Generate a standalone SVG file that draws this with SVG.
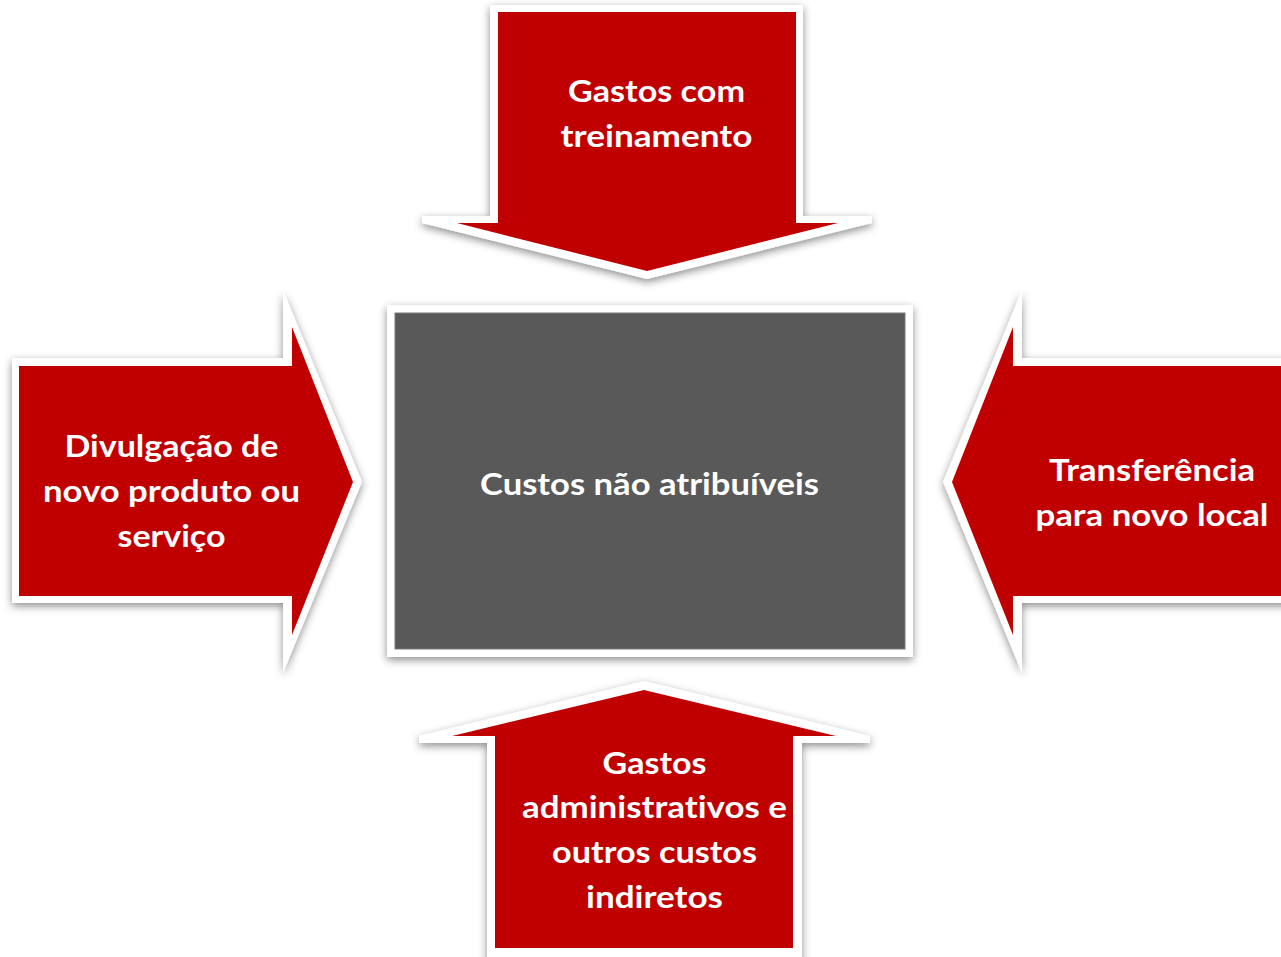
<svg xmlns="http://www.w3.org/2000/svg" width="1281" height="957" viewBox="0 0 1281 957">
<defs>
<filter id="sh" x="-20%" y="-20%" width="140%" height="140%">
<feDropShadow dx="0" dy="3" stdDeviation="4" flood-color="#000" flood-opacity="0.45"/>
</filter>
<style>
.frame{fill:#FFFFFF;filter:url(#sh);}
.red{fill:#C00000;}
.dark{fill:#595959;stroke:#7A7A7A;stroke-width:1;}
.lbl{font-family:Lato,"Open Sans","Liberation Sans",sans-serif;font-weight:bold;font-size:31px;fill:#FFFFFF;text-anchor:middle;font-variant-ligatures:none;font-feature-settings:"liga" 0;}
</style>
</defs>
<rect width="1281" height="957" fill="#FFFFFF"/>

<g id="center">
<rect class="frame" x="387" y="305" width="526" height="352"/>
<rect class="dark" x="395" y="313" width="510" height="336"/>
<text class="lbl" x="649.5" y="495" textLength="339" lengthAdjust="spacingAndGlyphs">Custos não atribuíveis</text>
</g>

<g id="top">
<polygon class="frame" points="490,5 803,5 803,216 872,216 872,223 647,279 422,223 422,216 490,216"/>
<polygon class="red" points="498,12 796,12 796,223 838,223 647,271 457,223 498,223"/>
<text class="lbl" x="656.5" y="102" textLength="177" lengthAdjust="spacingAndGlyphs">Gastos com</text>
<text class="lbl" x="656.5" y="147" textLength="192" lengthAdjust="spacingAndGlyphs">treinamento</text>
</g>

<g id="left">
<polygon class="frame" points="12,358 283,358 283,290 362,482 283,673 283,603 12,603"/>
<polygon class="red" points="19,366 292,366 292,327 353,482 292,635 292,596 19,596"/>
<text class="lbl" x="171.5" y="457" textLength="214" lengthAdjust="spacingAndGlyphs">Divulgação de</text>
<text class="lbl" x="171.5" y="502" textLength="257" lengthAdjust="spacingAndGlyphs">novo produto ou</text>
<text class="lbl" x="171.5" y="547" textLength="108" lengthAdjust="spacingAndGlyphs">serviço</text>
</g>

<g id="right">
<polygon class="frame" points="1300,358 1022,358 1022,290 943,482 1022,673 1022,603 1300,603"/>
<polygon class="red" points="1300,366 1013,366 1013,327 952,482 1013,635 1013,596 1300,596"/>
<text class="lbl" x="1152" y="481" textLength="206" lengthAdjust="spacingAndGlyphs">Transferência</text>
<text class="lbl" x="1152" y="526" textLength="233" lengthAdjust="spacingAndGlyphs">para novo local</text>
</g>

<g id="bottom">
<polygon class="frame" points="487,970 487,743 419,743 419,736 644,681 870,736 870,743 802,743 802,970"/>
<polygon class="red" points="495,948 495,736 452,736 644,690 836,736 793,736 793,948"/>
<text class="lbl" x="654.5" y="774" textLength="104" lengthAdjust="spacingAndGlyphs">Gastos</text>
<text class="lbl" x="654.5" y="818" textLength="265" lengthAdjust="spacingAndGlyphs">administrativos e</text>
<text class="lbl" x="654.5" y="863" textLength="205" lengthAdjust="spacingAndGlyphs">outros custos</text>
<text class="lbl" x="654.5" y="908" textLength="137" lengthAdjust="spacingAndGlyphs">indiretos</text>
</g>

<g id="connectors"></g>
</svg>
